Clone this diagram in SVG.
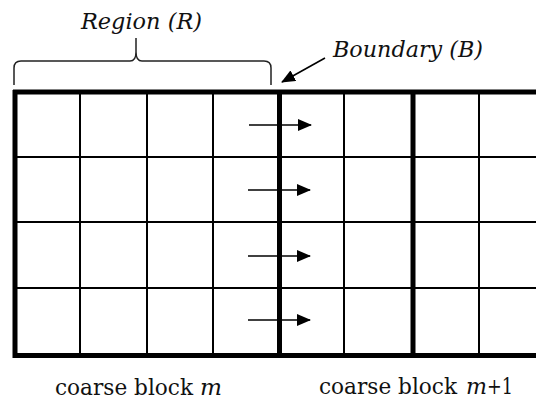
<svg xmlns="http://www.w3.org/2000/svg" width="536" height="400" viewBox="0 0 536 400">
  <defs>
    <marker id="ah" markerWidth="14" markerHeight="12" refX="13" refY="6" orient="auto" markerUnits="userSpaceOnUse">
      <path d="M0,0 L14,6 L0,12 Z" fill="#000"/>
    </marker>
    <style>
      .thin { stroke: #000; stroke-width: 2; fill: none; }
      .thick { stroke: #000; stroke-width: 5; fill: none; }
      .arr { stroke: #000; stroke-width: 1.6; fill: none; marker-end: url(#ah); }
      .brace { stroke: #222; stroke-width: 1.5; fill: none; }
      .it { font-style: italic; }
    </style>
  </defs>
  <rect width="536" height="400" fill="#fff"/>

  <g id="grid">
    <line class="thin" x1="15" y1="157" x2="536" y2="157"/>
    <line class="thin" x1="15" y1="222" x2="536" y2="222"/>
    <line class="thin" x1="15" y1="288" x2="536" y2="288"/>
    <line class="thin" x1="80" y1="92" x2="80" y2="355"/>
    <line class="thin" x1="147" y1="92" x2="147" y2="355"/>
    <line class="thin" x1="213" y1="92" x2="213" y2="355"/>
    <line class="thin" x1="344" y1="92" x2="344" y2="355"/>
    <line class="thin" x1="479" y1="92" x2="479" y2="355"/>
    <line class="thick" x1="13" y1="92" x2="536" y2="92" stroke-width="4"/>
    <line class="thick" x1="13" y1="355.5" x2="536" y2="355.5"/>
    <line class="thick" x1="15" y1="90" x2="15" y2="358"/>
    <line class="thick" x1="279.5" y1="90" x2="279.5" y2="358"/>
    <line class="thick" x1="413" y1="90" x2="413" y2="358" stroke-width="4"/>
  </g>

  <g id="connectors">
    <line class="arr" x1="249" y1="125" x2="311" y2="125"/>
    <line class="arr" x1="248" y1="190" x2="310" y2="190"/>
    <line class="arr" x1="248" y1="256" x2="310" y2="256"/>
    <line class="arr" x1="248" y1="320" x2="310" y2="320"/>
    <line class="arr" x1="325" y1="58" x2="282" y2="82"/>
  </g>

  <g id="brace">
    <path class="brace" d="M14,85 L14,68 Q14,61 21,61 L130,61 Q136,61 136,52 L136,38 M136,38 L136,52 Q136,61 142,61 L264,61 Q271,61 271,68 L271,85"/>
  </g>

  <g font-family="'DejaVu Serif', 'Liberation Serif', serif" font-size="22" fill="#111">
    <g id="region-label">
      <text class="it" x="81" y="29" textLength="121" lengthAdjust="spacingAndGlyphs">Region (R)</text>
    </g>
    <g id="boundary-label">
      <text class="it" x="333" y="57" textLength="150" lengthAdjust="spacingAndGlyphs">Boundary (B)</text>
    </g>
    <g id="block-m">
      <text x="55" y="395" textLength="138" lengthAdjust="spacingAndGlyphs">coarse block</text>
      <text class="it" x="200" y="395" textLength="22" lengthAdjust="spacingAndGlyphs">m</text>
    </g>
    <g id="block-m1">
      <text x="319" y="394" textLength="138" lengthAdjust="spacingAndGlyphs">coarse block</text>
      <text class="it" x="466" y="394" textLength="21" lengthAdjust="spacingAndGlyphs">m</text>
      <text x="487" y="394" textLength="26" lengthAdjust="spacingAndGlyphs">+1</text>
    </g>
  </g>
</svg>
